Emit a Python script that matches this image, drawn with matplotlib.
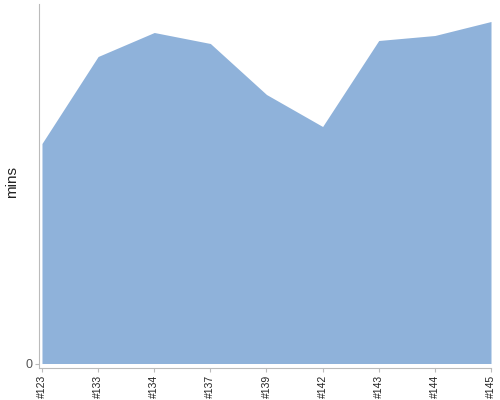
import matplotlib
matplotlib.use("Agg")
from matplotlib import pyplot as plt

# build labels and durations (mins)
builds = ["#123", "#133", "#134", "#137", "#139", "#142", "#143", "#144", "#145"]
mins = [22.0, 30.7, 33.1, 32.0, 26.9, 23.7, 32.3, 32.8, 34.2]

plt.rcParams["font.family"] = ["Liberation Sans", "DejaVu Sans"]

fig = plt.figure(figsize=(5, 4), dpi=100)
ax = fig.add_axes([39 / 500, 32 / 400, (491 - 39) / 500, (368 - 4) / 400])

x = list(range(len(builds)))
ax.fill_between(x, 0, mins, color="#8fb2da", linewidth=0)

ax.set_xlim(-0.053, len(builds) - 1)
ax.set_ylim(-0.45, 35.95)

ax.set_xticks(x)
ax.set_xticklabels(builds, rotation=90, fontsize=7.5, color="#222222")
ax.set_yticks([0])
ax.set_yticklabels(["0"], fontsize=9, color="#555555")
ax.tick_params(axis="both", length=3, color="#bbbbbb", pad=2)

ax.set_ylabel("mins", fontsize=11, color="#222222")
ax.yaxis.set_label_coords(-0.045, 0.51)

for side in ["top", "right"]:
    ax.spines[side].set_visible(False)
for side in ["left", "bottom"]:
    ax.spines[side].set_color("#bbbbbb")

fig.savefig("out.png", dpi=100)
